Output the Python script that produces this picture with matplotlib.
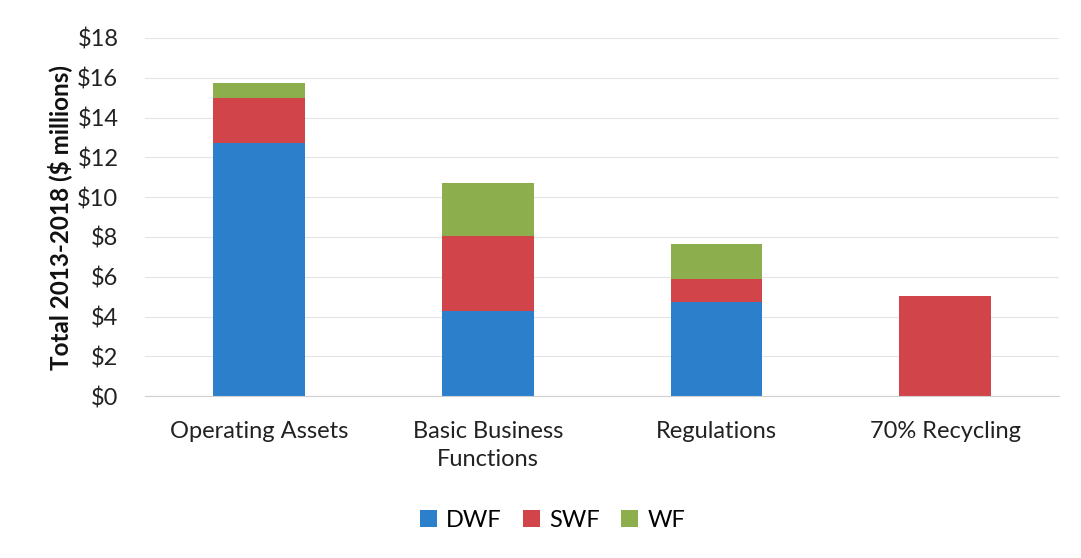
import matplotlib.pyplot as plt
import numpy as np

categories = ["Operating Assets", "Basic Business\nFunctions", "Regulations", "70% Recycling"]
dwf = [12.7, 4.3, 4.75, 0.0]
swf = [2.3, 3.77, 1.12, 5.05]
wf = [0.72, 2.63, 1.76, 0.0]
yticks = list(range(0, 19, 2))

body_font = ["Lato", "DejaVu Sans"]
c_dwf = "#2B7FCB"
c_swf = "#D0444A"
c_wf = "#8DAE4C"

fig = plt.figure(figsize=(10.81, 5.58), dpi=100)
fig.set_facecolor("white")
ax = fig.add_axes([0.134, 0.290, 0.846, 0.642])

x = np.arange(len(categories))
w = 0.4
bottom2 = np.array(dwf) + np.array(swf)
ax.bar(x, dwf, w, color=c_dwf, label="DWF", zorder=2)
ax.bar(x, swf, w, bottom=dwf, color=c_swf, label="SWF", zorder=2)
ax.bar(x, wf, w, bottom=bottom2, color=c_wf, label="WF", zorder=2)

ax.set_xlim(-0.5, len(categories) - 0.5)
ax.set_ylim(0, 18)
ax.set_yticks(yticks)
ax.set_yticklabels(["$" + str(v) for v in yticks], fontfamily=body_font, fontsize=17, color="#222222")
ax.set_xticks(x)
ax.set_xticklabels(categories, fontfamily=body_font, fontsize=17, color="#222222",
                   linespacing=1.4)
ax.tick_params(axis="both", length=0)
ax.tick_params(axis="y", pad=19)
ax.tick_params(axis="x", pad=18)
ax.grid(axis="y", color="#e4e4e4", lw=0.8, zorder=1)
ax.set_axisbelow(True)

for s in ["top", "right", "left"]:
    ax.spines[s].set_visible(False)
ax.spines["bottom"].set_color("#d0d0d0")

ax.set_ylabel("Total 2013-2018 ($ millions)", fontfamily=body_font, fontsize=17.5,
              fontweight="bold", color="#111111", labelpad=4)

ax.legend(loc="center", bbox_to_anchor=(0.446, -0.346), ncol=3, frameon=False,
          prop={"family": body_font, "size": 17}, handlelength=0.7, handleheight=0.7,
          handletextpad=0.4, columnspacing=0.9)

plt.savefig("out.png", dpi=100)
